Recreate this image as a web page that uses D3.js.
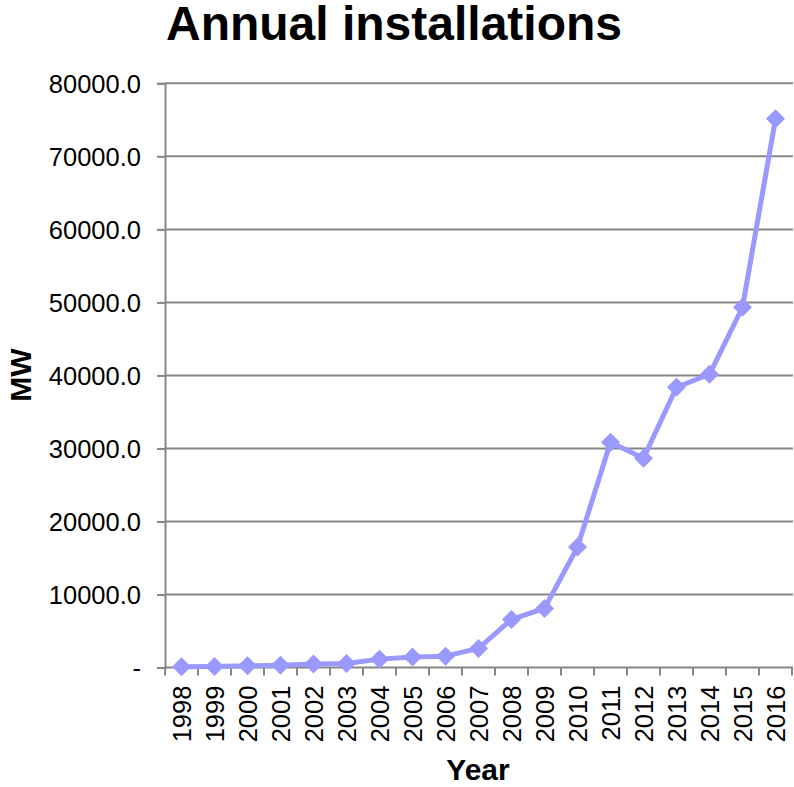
<!DOCTYPE html>
<html>
<head>
<meta charset="utf-8">
<script src="https://cdn.jsdelivr.net/npm/d3@7"></script>
<style>
  html, body { margin: 0; padding: 0; background: #fff; }
  svg { display: block; font-family: "Liberation Sans", Arial, sans-serif; }
</style>
</head>
<body>
<svg id="chart" width="794" height="787"></svg>
<script>
// Annual installed capacity (MW) by year
const years = ["1998","1999","2000","2001","2002","2003","2004","2005","2006","2007",
               "2008","2009","2010","2011","2012","2013","2014","2015","2016"];
const installedMW = [100, 150, 250, 330, 480, 570, 1160, 1440, 1570, 2630,
                     6600, 8100, 16500, 30850, 28660, 38380, 40160, 49340, 75140];
const yTicks = [0, 10000, 20000, 30000, 40000, 50000, 60000, 70000, 80000];

const svg = d3.select("#chart");
const plotLeft = 165, plotRight = 792, plotTop = 83.3, plotBottom = 667.6;
const gridColor = "#878787";
const lineColor = "#9999ff";

const x = d3.scaleBand().domain(years).range([plotLeft, plotRight]);
const y = d3.scaleLinear().domain([0, 80000]).range([plotBottom, plotTop]);

// horizontal gridlines
svg.append("g").selectAll("line").data(yTicks.filter(d => d > 0)).join("line")
  .attr("x1", plotLeft).attr("x2", plotRight + 1)
  .attr("y1", d => y(d)).attr("y2", d => y(d))
  .attr("stroke", gridColor).attr("stroke-width", 2);

// y axis
const yAxis = svg.append("g").attr("transform", `translate(${plotLeft},0)`)
  .call(d3.axisLeft(y).tickValues(yTicks).tickSize(8).tickPadding(16)
    .tickFormat(d => d === 0 ? "-" : d3.format(".1f")(d)));
yAxis.select(".domain").attr("stroke", gridColor).attr("stroke-width", 2);
yAxis.selectAll(".tick line").attr("stroke", gridColor).attr("stroke-width", 2);
yAxis.selectAll(".tick text").attr("font-size", 25.5).attr("fill", "#000")
  .attr("font-family", "Liberation Sans, Arial, sans-serif").attr("dy", "0.35em");

// x axis with boundary ticks between categories
const xAxisG = svg.append("g");
xAxisG.append("line").attr("x1", plotLeft).attr("x2", plotRight + 1)
  .attr("y1", plotBottom).attr("y2", plotBottom)
  .attr("stroke", gridColor).attr("stroke-width", 2);
const bounds = years.map(d => x(d)).concat([plotRight]);
xAxisG.selectAll("line.b").data(bounds).join("line").attr("class", "b")
  .attr("x1", d => d).attr("x2", d => d)
  .attr("y1", plotBottom).attr("y2", plotBottom + 8)
  .attr("stroke", gridColor).attr("stroke-width", 2);
xAxisG.selectAll("text").data(years).join("text")
  .attr("transform", d => `translate(${x(d) + x.bandwidth() / 2 + 9},${plotBottom + 18}) rotate(-90)`)
  .attr("text-anchor", "end")
  .attr("font-size", 25.5).attr("fill", "#000")
  .text(d => d);

// series line
const pts = years.map((d, i) => [x(d) + x.bandwidth() / 2, y(installedMW[i])]);
svg.append("path")
  .attr("d", d3.line()(pts))
  .attr("fill", "none").attr("stroke", lineColor)
  .attr("stroke-width", 5).attr("stroke-linejoin", "round");

// diamond markers
svg.append("g").selectAll("path").data(pts).join("path")
  .attr("transform", d => `translate(${d[0]},${d[1]})`)
  .attr("d", "M0,-9.5L9.5,0L0,9.5L-9.5,0Z")
  .attr("fill", lineColor);

// titles
svg.append("text").attr("x", 394).attr("y", 40)
  .attr("text-anchor", "middle").attr("font-size", 48).attr("font-weight", "bold")
  .text("Annual installations");
svg.append("text").attr("x", 478).attr("y", 780)
  .attr("text-anchor", "middle").attr("font-size", 30).attr("font-weight", "bold")
  .text("Year");
svg.append("text").attr("transform", "translate(31,375) rotate(-90)")
  .attr("text-anchor", "middle").attr("font-size", 30).attr("font-weight", "bold")
  .text("MW");
</script>
</body>
</html>
